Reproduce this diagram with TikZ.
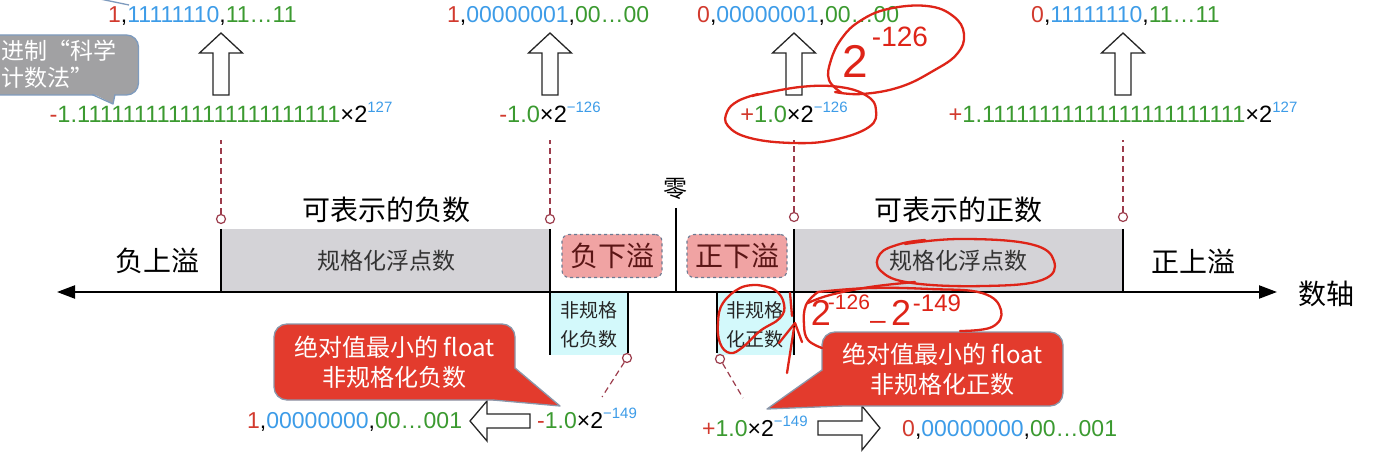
\documentclass[tikz,border=0pt]{standalone}
\usepackage{fontspec}
\setmainfont{Liberation Sans}
\newfontfamily\cjk{Noto Sans CJK SC}
\newfontfamily\handfont{Liberation Sans}
\usetikzlibrary{arrows.meta}
\definecolor{nred}{HTML}{D23A2E}
\definecolor{nblue}{HTML}{3D9CE8}
\definecolor{ngreen}{HTML}{3B9A30}
\definecolor{boxgray}{HTML}{D4D3D7}
\definecolor{boxcyan}{HTML}{D3F9FB}
\definecolor{uflow}{HTML}{F0A3A3}
\definecolor{uflowtext}{HTML}{5A1515}
\definecolor{uflowedge}{HTML}{6C7A92}
\definecolor{callred}{HTML}{E33B2D}
\definecolor{calledge}{HTML}{8A97AA}
\definecolor{bubgray}{HTML}{A1A1A3}
\definecolor{bubedge}{HTML}{7E9BBE}
\definecolor{dashred}{HTML}{9C3C4C}
\definecolor{handred}{HTML}{DE2418}
\newcommand\cR[1]{\textcolor{nred}{#1}}
\newcommand\cB[1]{\textcolor{nblue}{#1}}
\newcommand\cG[1]{\textcolor{ngreen}{#1}}
\newcommand\sps[1]{\raisebox{10pt}{\fontsize{15}{15}\selectfont\textcolor{nblue}{#1}}}
\tikzset{
  numtxt/.style={font=\fontsize{23}{23}\selectfont, inner sep=0pt, anchor=base west},
  numctr/.style={font=\fontsize{23.6}{23.6}\selectfont, inner sep=0pt, anchor=base},
  cjklab/.style={font=\cjk\fontsize{28}{28}\selectfont, inner sep=0pt},
  boxlab/.style={font=\cjk\fontsize{23}{23}\selectfont, inner sep=0pt, text=black!80},
  smalllab/.style={font=\cjk\fontsize{19}{29}\selectfont, inner sep=0pt, align=center, text=black!85},
  uflowbox/.style={draw=uflowedge, dashed, line width=1.1pt, fill=uflow, rounded corners=7pt,
     minimum width=100pt, minimum height=43pt, inner sep=0pt, font=\cjk\fontsize{28}{28}\selectfont, text=uflowtext},
  ring/.style={circle, draw=dashred, fill=white, line width=1.2pt, minimum size=9pt, inner sep=0pt},
  dashline/.style={draw=dashred, line width=1.2pt, dash pattern=on 6pt off 4pt},
  vline/.style={line width=2.6pt, draw=black},
  blockarrow/.style={draw=black!85, line width=1.3pt, fill=white, line join=miter},
  callout/.style={draw=calledge, line width=1.3pt, fill=callred, rounded corners=13pt, text=white,
     font=\cjk\fontsize{24}{30}\selectfont, align=center, inner sep=0pt},
  hand/.style={draw=handred, line width=2.3pt, line cap=round, line join=round},
  handtxt/.style={text=handred, inner sep=0pt},
  upblock/.pic={\draw[blockarrow] (-8,0) -- (-8,-42) -- (-21.5,-42) -- (0,-62) -- (21.5,-42) -- (8,-42) -- (8,0) -- cycle;}
}
\begin{document}
\begin{tikzpicture}[x=1pt,y=-1pt]
\useasboundingbox (0,0) rectangle (1376,457);
\clip (0,0) rectangle (1376,457);
\fill[white] (0,0) rectangle (1376,457);

% boxes
\fill[boxgray] (221,229) rectangle (550,292);
\fill[boxgray] (794,229) rectangle (1123,292);
\fill[boxcyan] (550,292) rectangle (628,355);
\fill[boxcyan] (717,292) rectangle (794,355);

\node[uflowbox] (nu) at (612,256) {负下溢};
\node[uflowbox] (pu) at (737,256) {正下溢};

% axis
\coordinate (axL) at (57,292);
\coordinate (axR) at (1277,292);
\draw[line width=2.2pt, {Triangle[length=18pt,width=13pt]}-{Triangle[length=18pt,width=13pt]}] (axL) -- (axR);

% vertical lines
\draw[vline] (221,229) -- (221,292);
\draw[vline] (550,229) -- (550,355);
\draw[vline] (628,292) -- (628,353);
\draw[vline] (676,208) -- (676,292);
\draw[vline] (717,292) -- (717,353);
\draw[vline] (794,229) -- (794,355);
\draw[vline] (1123,229) -- (1123,292);

% top numbers
\node[numtxt] (b1) at (108,23) {\cR{1},\cB{11111110},\cG{11…11}};
\node[numtxt] (b2) at (447,23) {\cR{1},\cB{00000001},\cG{00…00}};
\node[numtxt] (b3) at (697,23) {\cR{0},\cB{00000001},\cG{00…00}};
\node[numtxt] (b4) at (1031,23) {\cR{0},\cB{11111110},\cG{11…11}};

\pic at (221,95) {upblock};
\pic at (550,95) {upblock};
\pic at (794,95) {upblock};
\pic at (1123,95) {upblock};

% formulas
\node[numctr] (f1) at (221,123) {\cR{-}\cG{1.11111111111111111111111}×2\sps{127}};
\node[numctr] (f2) at (550,123) {\cR{-}\cG{1.0}×2\sps{−126}};
\node[numctr] (f3) at (794,123) {\cR{+}\cG{1.0}×2\sps{−126}};
\node[numctr] (f4) at (1123,123) {\cR{+}\cG{1.11111111111111111111111}×2\sps{127}};

% rings and dashed lines
\node[ring] (c1) at (221,219) {};
\node[ring] (c2) at (550,219) {};
\node[ring] (c3) at (794,217) {};
\node[ring] (c4) at (1123,217) {};
\draw[dashline] (c1.north) -- (221,140);
\draw[dashline] (c2.north) -- (550,140);
\draw[dashline] (c3.north) -- (794,140);
\draw[dashline] (c4.north) -- (1123,140);

\node[ring] (c5) at (627,358) {};
\node[ring] (c6) at (720,359) {};
\coordinate (d5) at (602,397);
\coordinate (d6) at (743,398);
\draw[dashline] (c5) -- (d5);
\draw[dashline] (c6) -- (d6);

% labels
\node[cjklab] (lneg) at (386,210) {可表示的负数};
\node[cjklab] (lpos) at (958,210) {可表示的正数};
\node[cjklab] (lnov) at (157,261) {负上溢};
\node[cjklab] (lpov) at (1193,261) {正上溢};
\node[boxlab] (gn) at (386,261) {规格化浮点数};
\node[boxlab] (gp) at (958,261) {规格化浮点数};
\node[font=\cjk\fontsize{24}{24}\selectfont, inner sep=0pt] (zero) at (675,189) {零};
\node[cjklab] (axis) at (1326,294) {数轴};
\node[smalllab] (dn) at (589,325) {非规格\\化负数};
\node[smalllab] (dp) at (755,325) {非规格\\化正数};

% bottom numbers
\node[numtxt] (e1) at (247,428) {\cR{1},\cB{00000000},\cG{00…001}};
\node[numtxt] (e2) at (537,428) {\cR{-}\cG{1.0}×2\sps{−149}};
\node[numtxt] (e3) at (702,436) {\cR{+}\cG{1.0}×2\sps{−149}};
\node[numtxt] (e4) at (902,436) {\cR{0},\cB{00000000},\cG{00…001}};

\draw[blockarrow] (530,414) -- (487,414) -- (487,401) -- (470,421) -- (487,441) -- (487,428) -- (530,428) -- cycle;
\draw[blockarrow] (818,421) -- (862,421) -- (862,406) -- (880,428) -- (862,450) -- (862,435) -- (818,435) -- cycle;

% callouts
\node[callout, minimum width=241pt, minimum height=76pt] (k1) at (394.5,362) {绝对值最小的 float\\非规格化负数};
\fill[callred] (515,368) -- (560,406) -- (493,400) -- cycle;
\draw[calledge, line width=1.3pt, line join=round] (515,368) -- (560,406) -- (493,400);
\node[callout, minimum width=241pt, minimum height=74pt] (k2) at (942.5,369) {绝对值最小的 float\\非规格化正数};
\fill[callred] (822,370) -- (767,409) -- (842,406) -- cycle;
\draw[calledge, line width=1.3pt, line join=round] (822,370) -- (767,409) -- (842,406);

% grey bubble (cut by the left edge)
\node[draw=bubedge, line width=1.3pt, fill=bubgray, rounded corners=12pt, minimum width=165pt, minimum height=60pt, inner sep=0pt] (bub) at (56,65) {};
\fill[bubgray] (92,93) -- (113,104) -- (115,93) -- cycle;
\draw[bubedge, line width=1.3pt, line join=round] (92,94.5) -- (113,104) -- (115,94.5);
\node[font=\cjk\fontsize{23}{23}\selectfont, text=white, inner sep=0pt, anchor=west] (bt1) at (1,51) {进制“科学};
\node[font=\cjk\fontsize{23}{23}\selectfont, text=white, inner sep=0pt, anchor=west] (bt2) at (1,78) {计数法”};
\draw[bubedge, line width=1.3pt] (100,-1) .. controls (114,2) .. (129,5);

% hand annotations
\draw[hand] plot[smooth, tension=0.7] coordinates {(752,96) (800,87) (840,87) (867,96) (876,110) (869,127) (833,140) (793,143) (750,138) (728,126) (727,112) (738,101) (758,94)};
\draw[hand] plot[smooth, tension=0.7] coordinates {(842,93) (829,80) (831,60) (842,38) (860,21) (888,9) (927,6) (953,16) (964,34) (957,54) (933,71) (900,87) (862,94) (835,92)};
\node[handtxt, font=\handfont\fontsize{46}{46}\selectfont] (h2) at (855,61) {2};
\node[handtxt, font=\handfont\fontsize{28}{28}\selectfont] (h126) at (900,37) {-126};
\draw[hand] plot[smooth, tension=0.7] coordinates {(905,244) (960,239) (1030,244) (1054,261) (1042,280) (985,286) (912,283) (881,271) (880,254) (900,244) (925,240)};
\draw[hand] plot[smooth, tension=0.7] coordinates {(915,282) (870,287) (830,295) (808,303)};
\draw[hand] plot[smooth, tension=0.7] coordinates {(818,292) (870,288) (930,289) (982,293) (1001,310) (992,327) (960,331)};
\draw[hand] plot[smooth, tension=0.7] coordinates {(818,292) (806,305) (804,325) (808,340) (822,348)};
\node[handtxt, font=\handfont\fontsize{36}{36}\selectfont] (h3) at (821,313) {2};
\node[handtxt, font=\handfont\fontsize{21}{21}\selectfont] (h4) at (849,302) {-126};
\node[handtxt, font=\handfont\fontsize{28}{28}\selectfont] (h5) at (878,325) {–};
\node[handtxt, font=\handfont\fontsize{36}{36}\selectfont] (h6) at (901,313) {2};
\node[handtxt, font=\handfont\fontsize{24}{24}\selectfont] (h7) at (937,303) {-149};
\draw[hand] plot[smooth, tension=0.7] coordinates {(757,285) (775,290) (784,304) (780,318) (760,331) (743,347) (730,353) (720,343) (718,322) (723,303) (740,288) (757,285)};
\draw[hand] (787,373) -- (794,328);
\draw[hand] (779,343) -- (795,323) -- (802,342);
\draw[hand] (790,293) -- (792,316);
\end{tikzpicture}
\end{document}
